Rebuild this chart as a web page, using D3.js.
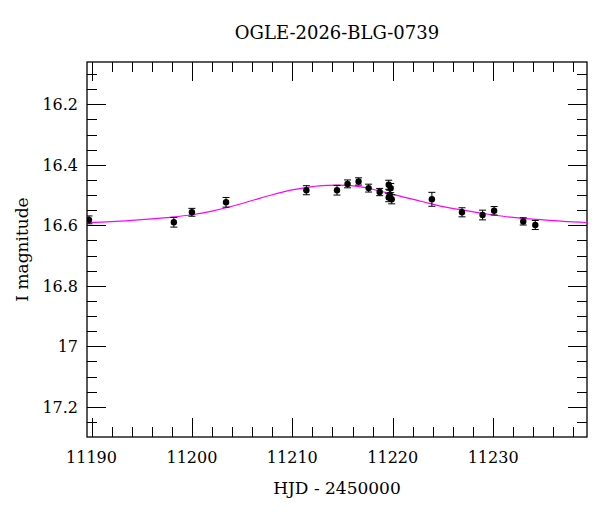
<!DOCTYPE html>
<html>
<head>
<meta charset="utf-8">
<script src="https://cdn.jsdelivr.net/npm/d3@7"></script>
<style>
  body { margin: 0; background: #fff; }
  text { font-family: "DejaVu Serif", serif; fill: #000; }
</style>
</head>
<body>
<div id="chart"></div>
<script>
"use strict";

// photometry points (HJD - 2450000, I mag, error)
const hjd = [11189.75, 11198.2, 11200.0, 11203.4, 11211.4, 11214.45, 11215.5, 11216.6,
  11217.6, 11218.7, 11219.6, 11219.8, 11219.7, 11219.6, 11219.9, 11223.9, 11226.9,
  11228.95, 11230.1, 11233.0, 11234.2];
const mag = [16.582, 16.590, 16.557, 16.524, 16.484, 16.484, 16.463, 16.455,
  16.477, 16.490, 16.466, 16.477, 16.499, 16.508, 16.514, 16.514, 16.557,
  16.566, 16.552, 16.587, 16.599];
const err = [0.013, 0.016, 0.013, 0.016, 0.015, 0.016, 0.013, 0.012,
  0.013, 0.012, 0.015, 0.015, 0.015, 0.014, 0.015, 0.023, 0.015,
  0.016, 0.014, 0.012, 0.015];

// model curve
const modelT = [11189.5, 11192, 11194, 11196, 11198, 11200, 11202, 11204, 11206, 11208,
  11210, 11212, 11213.5, 11214.5, 11215.5, 11217, 11219, 11221, 11223, 11225,
  11227, 11229, 11231, 11233, 11235, 11237, 11239.5];
const modelM = [16.591, 16.588, 16.584, 16.579, 16.573, 16.565, 16.553, 16.537, 16.518, 16.499,
  16.483, 16.472, 16.468, 16.467, 16.468, 16.474, 16.489, 16.506, 16.522, 16.538,
  16.550, 16.561, 16.570, 16.577, 16.582, 16.587, 16.591];

const xTicks = [11190, 11200, 11210, 11220, 11230];
const yTicks = [16.2, 16.4, 16.6, 16.8, 17, 17.2];

const W = 600, H = 512;
const m = {left: 87, right: 13, top: 62, bottom: 75};
const pw = W - m.left - m.right, ph = H - m.top - m.bottom;

const x = d3.scaleLinear().domain([11189.55, 11239.35]).range([0, pw]);
const y = d3.scaleLinear().domain([16.06, 17.30]).range([0, ph]);

const svg = d3.select('#chart').append('svg')
  .attr('width', W).attr('height', H);

svg.append('defs').append('clipPath').attr('id', 'clip')
  .append('rect').attr('width', pw).attr('height', ph);

const g = svg.append('g').attr('transform', `translate(${m.left},${m.top})`);

// ticks on all four sides, pointing inward
const xMinor = d3.range(11190, 11240, 2);
const yMinor = d3.range(16.1, 17.3, 0.05).map(v => +v.toFixed(2));
const isMajorX = v => xTicks.includes(v);
const isMajorY = v => yTicks.some(t => Math.abs(t - v) < 1e-6);

const ticks = g.append('g').attr('stroke', '#000').attr('stroke-width', 1);
xMinor.forEach(v => {
  let len = isMajorX(v) ? 19 : 10;
  let px = Math.round(x(v)) + 0.5;
  ticks.append('line').attr('x1', px).attr('x2', px).attr('y1', ph).attr('y2', ph - len);
  ticks.append('line').attr('x1', px).attr('x2', px).attr('y1', 0).attr('y2', len);
});
yMinor.forEach(v => {
  let len = isMajorY(v) ? 19 : 10;
  let py = Math.round(y(v)) + 0.5;
  ticks.append('line').attr('x1', 0).attr('x2', len).attr('y1', py).attr('y2', py);
  ticks.append('line').attr('x1', pw).attr('x2', pw - len).attr('y1', py).attr('y2', py);
});

// tick labels
g.selectAll('.xl').data(xTicks).join('text')
  .attr('x', d => x(d)).attr('y', ph + 26)
  .attr('text-anchor', 'middle').attr('font-size', 16)
  .text(d => d);
g.selectAll('.yl').data(yTicks).join('text')
  .attr('x', -9).attr('y', d => y(d)).attr('dy', '0.38em')
  .attr('text-anchor', 'end').attr('font-size', 16)
  .text(d => d);

// frame
g.append('rect').attr('width', pw).attr('height', ph)
  .attr('fill', 'none').attr('stroke', '#000').attr('stroke-width', 1.3);

// model curve
const line = d3.line().x((d, i) => x(modelT[i])).y((d, i) => y(modelM[i]))
  .curve(d3.curveCatmullRom);
g.append('path').datum(modelT)
  .attr('clip-path', 'url(#clip)')
  .attr('d', line)
  .attr('fill', 'none').attr('stroke', '#ff00ff').attr('stroke-width', 1.2);

// data with error bars
const pts = g.append('g').attr('clip-path', 'url(#clip)');
hjd.forEach((t, i) => {
  let cx = x(t), top = y(mag[i] - err[i]), bot = y(mag[i] + err[i]);
  let eb = pts.append('g').attr('stroke', '#000').attr('stroke-width', 1);
  eb.append('line').attr('x1', cx).attr('x2', cx).attr('y1', top).attr('y2', bot);
  eb.append('line').attr('x1', cx - 3.5).attr('x2', cx + 3.5).attr('y1', top).attr('y2', top);
  eb.append('line').attr('x1', cx - 3.5).attr('x2', cx + 3.5).attr('y1', bot).attr('y2', bot);
  pts.append('circle').attr('cx', cx).attr('cy', y(mag[i])).attr('r', 3.2).attr('fill', '#000');
});

// titles
svg.append('text').attr('x', m.left + pw / 2).attr('y', 39)
  .attr('text-anchor', 'middle').attr('font-size', 18)
  .text('OGLE-2026-BLG-0739');
svg.append('text').attr('x', m.left + pw / 2).attr('y', 494)
  .attr('text-anchor', 'middle').attr('font-size', 17)
  .text('HJD - 2450000');
svg.append('text')
  .attr('transform', `translate(28,${m.top + ph / 2}) rotate(-90)`)
  .attr('text-anchor', 'middle').attr('font-size', 17)
  .text('I magnitude');
</script>
</body>
</html>
